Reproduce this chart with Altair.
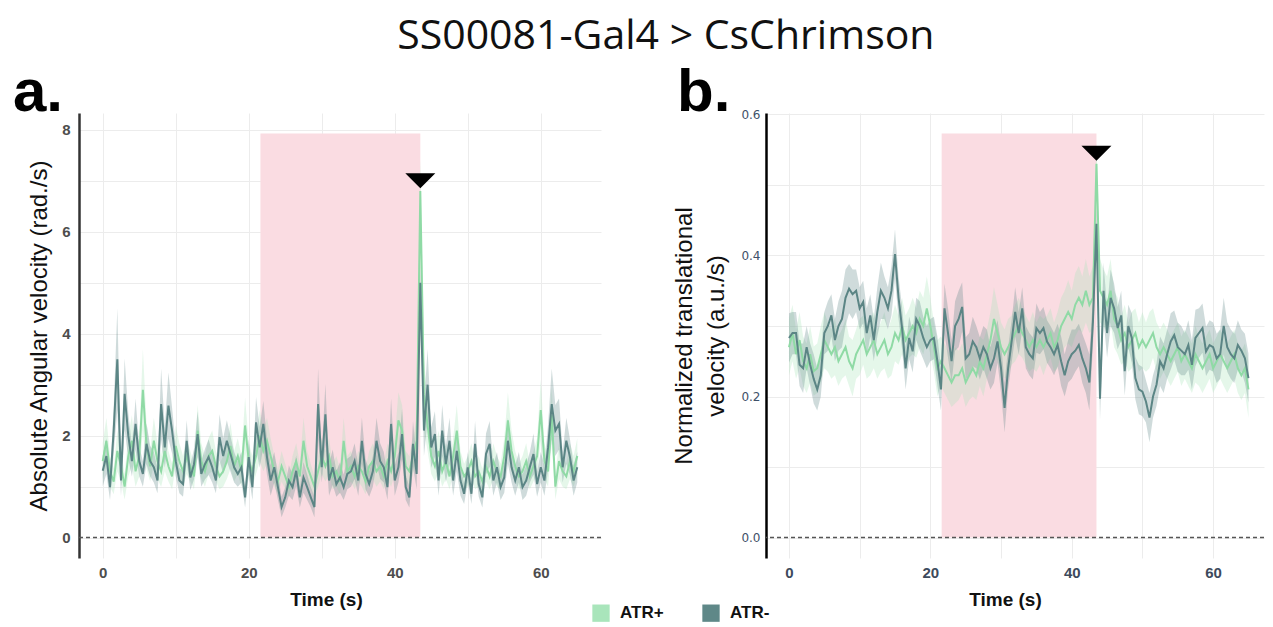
import altair as alt
import pandas as pd

TIME_STEP = 0.5
GROUPS = ["ATR+", "ATR-"]
FILL_COLORS = ["#a9e5bb", "#5f8888"]
LINE_COLORS = ["#8fdaa5", "#5b8585"]
STIM_START, STIM_END = 21.6, 43.5
TITLE = "SS00081-Gal4 > CsChrimson"

# ---- panel a: absolute angular velocity (rad./s), one value per 0.5 s ----
a_pos = [1.5, 1.9, 1.3, 1.1, 1.7, 1.4, 1.0, 1.6, 1.9, 1.3,
         1.6, 2.9, 1.8, 1.4, 1.9, 1.5, 1.3, 1.7, 1.4, 1.2,
         1.8, 1.5, 1.3, 1.6, 1.4, 1.2, 2.1, 1.5, 1.3, 1.6,
         1.7, 1.4, 1.2, 1.3, 1.5, 1.8, 1.4, 1.6, 1.3, 2.2,
         1.5, 1.3, 1.6, 2.0, 1.7, 1.9, 1.6, 1.3, 1.1, 1.4,
         1.2, 1.0, 1.3, 1.5, 1.2, 1.9, 1.4, 1.2, 1.0, 1.3,
         1.6, 1.4, 1.6, 1.2, 1.3, 1.1, 1.9, 1.3, 1.4, 1.2,
         1.4, 1.3, 1.1, 1.4, 1.5, 1.3, 1.4, 1.2, 1.5, 1.3,
         1.6, 2.3, 2.1, 1.4, 1.3, 1.6, 1.9, 6.8, 2.8, 2.2,
         1.6, 1.4, 1.7, 1.3, 1.5, 1.2, 1.6, 2.1, 1.4, 1.2,
         1.3, 1.5, 1.2, 1.3, 1.1, 1.4, 1.2, 1.5, 1.3, 1.2,
         1.6, 2.3, 1.7, 1.4, 1.2, 1.3, 1.5, 1.2, 1.4, 1.6,
         2.5, 1.5, 1.3, 2.4, 1.0, 1.5, 1.3, 1.2, 1.5, 1.3,
         1.6]
a_pos_sem = [0.35, 0.45, 0.3, 0.25, 0.4, 0.3, 0.25, 0.4, 0.5, 0.3,
             0.4, 0.8, 0.45, 0.3, 0.45, 0.35, 0.3, 0.4, 0.3, 0.25,
             0.4, 0.35, 0.3, 0.35, 0.3, 0.25, 0.5, 0.35, 0.3, 0.35,
             0.4, 0.3, 0.25, 0.3, 0.35, 0.45, 0.3, 0.35, 0.3, 0.55,
             0.35, 0.3, 0.35, 0.5, 0.4, 0.45, 0.35, 0.3, 0.25, 0.3,
             0.25, 0.2, 0.3, 0.35, 0.25, 0.45, 0.3, 0.25, 0.2, 0.3,
             0.35, 0.3, 0.35, 0.25, 0.3, 0.25, 0.45, 0.3, 0.3, 0.25,
             0.3, 0.3, 0.25, 0.3, 0.35, 0.3, 0.3, 0.25, 0.35, 0.3,
             0.35, 0.55, 0.5, 0.3, 0.3, 0.35, 0.45, 0.6, 0.7, 0.5,
             0.35, 0.3, 0.4, 0.3, 0.35, 0.25, 0.35, 0.5, 0.3, 0.25,
             0.3, 0.35, 0.25, 0.3, 0.25, 0.3, 0.25, 0.35, 0.3, 0.25,
             0.35, 0.55, 0.4, 0.3, 0.25, 0.3, 0.35, 0.25, 0.3, 0.35,
             0.6, 0.35, 0.3, 0.55, 0.25, 0.35, 0.3, 0.25, 0.35, 0.3,
             0.35]
a_neg = [1.31, 1.6, 0.99, 2.1, 3.5, 1.12, 2.82, 2.0, 1.5, 2.23,
         1.5, 1.25, 1.84, 1.5, 1.38, 1.12, 2.62, 1.77, 2.59, 2.1,
         1.5, 1.12, 1.05, 1.9, 1.18, 1.44, 2.03, 1.25, 1.44, 1.58,
         1.38, 1.12, 1.97, 1.6, 1.9, 1.64, 1.38, 1.25, 1.38, 0.79,
         1.58, 0.99, 2.26, 1.77, 2.23, 1.58, 1.12, 1.38, 0.99, 0.6,
         0.79, 1.12, 0.99, 1.31, 0.79, 1.18, 0.99, 0.79, 0.6, 2.62,
         1.38, 2.42, 1.12, 1.38, 1.05, 1.18, 0.99, 1.25, 1.3, 1.5,
         1.12, 1.9, 1.25, 1.05, 1.3, 1.9, 1.5, 1.38, 0.99, 2.23,
         1.12, 1.38, 2.03, 0.99, 0.79, 1.84, 1.25, 5.0, 2.1, 3.0,
         1.77, 2.03, 1.12, 2.1, 1.44, 1.9, 1.12, 1.7, 1.12, 0.86,
         1.38, 0.86, 1.84, 1.05, 0.79, 1.64, 1.84, 1.12, 1.38, 0.99,
         1.18, 1.9, 1.38, 1.12, 1.38, 0.99, 1.12, 1.38, 1.64, 1.05,
         1.38, 1.12, 1.77, 2.62, 2.1, 2.23, 1.38, 1.9, 1.58, 1.12,
         1.38]
a_neg_sem = [0.3, 0.35, 0.25, 0.45, 1.0, 0.3, 0.7, 0.45, 0.3, 0.5,
             0.3, 0.25, 0.4, 0.3, 0.3, 0.25, 0.7, 0.4, 0.65, 0.45,
             0.3, 0.25, 0.25, 0.4, 0.25, 0.3, 0.45, 0.25, 0.3, 0.35,
             0.3, 0.25, 0.45, 0.35, 0.4, 0.35, 0.3, 0.25, 0.3, 0.2,
             0.35, 0.25, 0.5, 0.4, 0.45, 0.35, 0.3, 0.3, 0.25, 0.2,
             0.2, 0.3, 0.25, 0.3, 0.2, 0.3, 0.25, 0.2, 0.2, 0.7,
             0.3, 0.6, 0.3, 0.35, 0.25, 0.3, 0.25, 0.3, 0.3, 0.35,
             0.3, 0.45, 0.3, 0.25, 0.3, 0.45, 0.35, 0.3, 0.25, 0.5,
             0.3, 0.3, 0.5, 0.25, 0.2, 0.45, 0.3, 0.4, 0.5, 0.7,
             0.4, 0.45, 0.3, 0.5, 0.35, 0.45, 0.3, 0.4, 0.3, 0.2,
             0.3, 0.2, 0.45, 0.25, 0.2, 0.4, 0.45, 0.3, 0.3, 0.25,
             0.3, 0.45, 0.3, 0.3, 0.3, 0.25, 0.3, 0.3, 0.4, 0.25,
             0.3, 0.3, 0.45, 0.7, 0.5, 0.5, 0.3, 0.45, 0.35, 0.3,
             0.3]

# ---- panel b: normalized translational velocity (a.u./s), one value per 0.5 s ----
b_pos = [0.27, 0.29, 0.26, 0.28, 0.25, 0.24, 0.26, 0.236, 0.24, 0.26,
         0.28, 0.27, 0.26, 0.27, 0.25, 0.26, 0.27, 0.25, 0.24, 0.26,
         0.27, 0.28, 0.26, 0.27, 0.28, 0.26, 0.27, 0.28, 0.26, 0.27,
         0.29, 0.28, 0.30, 0.28, 0.29, 0.30, 0.29, 0.31, 0.30, 0.325,
         0.30, 0.27, 0.24, 0.25, 0.24, 0.23, 0.22, 0.23, 0.23, 0.24,
         0.22, 0.23, 0.24, 0.23, 0.25, 0.24, 0.26, 0.28, 0.31, 0.29,
         0.27, 0.26, 0.27, 0.28, 0.29, 0.30, 0.29, 0.28, 0.27, 0.28,
         0.27, 0.28, 0.27, 0.28, 0.29, 0.27, 0.28, 0.30, 0.31, 0.32,
         0.31, 0.33, 0.34, 0.33, 0.35, 0.33, 0.34, 0.53, 0.35, 0.34,
         0.33, 0.35, 0.31, 0.30, 0.28, 0.29, 0.27, 0.28, 0.29, 0.27,
         0.28, 0.27, 0.28, 0.29, 0.27, 0.26, 0.27, 0.26, 0.25, 0.26,
         0.27, 0.25, 0.26, 0.25, 0.24, 0.26, 0.25, 0.24, 0.25, 0.26,
         0.24, 0.25, 0.26, 0.25, 0.24, 0.25, 0.26, 0.24, 0.23, 0.24,
         0.21]
b_pos_sem = [0.04, 0.04, 0.035, 0.04, 0.035, 0.035, 0.04, 0.035, 0.035, 0.04,
             0.04, 0.035, 0.035, 0.04, 0.035, 0.035, 0.04, 0.035, 0.04, 0.035,
             0.04, 0.035, 0.035, 0.04, 0.04, 0.035, 0.035, 0.04, 0.035, 0.04,
             0.04, 0.035, 0.04, 0.035, 0.035, 0.04, 0.035, 0.04, 0.04, 0.045,
             0.04, 0.035, 0.04, 0.035, 0.035, 0.035, 0.035, 0.04, 0.035, 0.035,
             0.035, 0.035, 0.04, 0.035, 0.035, 0.04, 0.035, 0.04, 0.045, 0.04,
             0.035, 0.035, 0.04, 0.035, 0.04, 0.04, 0.035, 0.035, 0.035, 0.04,
             0.035, 0.035, 0.04, 0.035, 0.035, 0.035, 0.04, 0.04, 0.04, 0.045,
             0.04, 0.045, 0.045, 0.04, 0.045, 0.04, 0.045, 0.03, 0.045, 0.04,
             0.04, 0.045, 0.04, 0.04, 0.035, 0.04, 0.035, 0.04, 0.035, 0.035,
             0.04, 0.035, 0.04, 0.035, 0.035, 0.035, 0.035, 0.035, 0.035, 0.035,
             0.035, 0.035, 0.035, 0.035, 0.035, 0.04, 0.035, 0.035, 0.035, 0.035,
             0.035, 0.035, 0.035, 0.035, 0.035, 0.035, 0.035, 0.035, 0.035, 0.035,
             0.04]
b_neg = [0.283, 0.29, 0.29, 0.245, 0.24, 0.27, 0.245, 0.225, 0.21, 0.23,
         0.29, 0.30, 0.315, 0.28, 0.30, 0.31, 0.34, 0.353, 0.345, 0.35,
         0.325, 0.334, 0.29, 0.315, 0.28, 0.32, 0.35, 0.34, 0.325, 0.35,
         0.402, 0.34, 0.297, 0.24, 0.283, 0.264, 0.31, 0.30, 0.283, 0.27,
         0.28, 0.283, 0.25, 0.21, 0.325, 0.29, 0.25, 0.30, 0.31, 0.327,
         0.254, 0.26, 0.278, 0.27, 0.254, 0.27, 0.26, 0.24, 0.254, 0.278,
         0.24, 0.184, 0.24, 0.278, 0.32, 0.29, 0.325, 0.27, 0.26, 0.254,
         0.297, 0.29, 0.297, 0.278, 0.27, 0.26, 0.273, 0.25, 0.23, 0.25,
         0.26, 0.265, 0.273, 0.254, 0.24, 0.22, 0.306, 0.445, 0.197, 0.35,
         0.29, 0.34, 0.325, 0.297, 0.315, 0.236, 0.30, 0.283, 0.226, 0.21,
         0.207, 0.193, 0.17, 0.20, 0.217, 0.25, 0.24, 0.26, 0.278, 0.287,
         0.27, 0.265, 0.26, 0.273, 0.245, 0.283, 0.29, 0.297, 0.264, 0.273,
         0.27, 0.254, 0.26, 0.30, 0.27, 0.26, 0.254, 0.273, 0.265, 0.254,
         0.226]
b_neg_sem = [0.035, 0.03, 0.03, 0.03, 0.035, 0.03, 0.03, 0.035, 0.03, 0.03,
             0.03, 0.035, 0.03, 0.03, 0.035, 0.04, 0.04, 0.035, 0.035, 0.03,
             0.03, 0.03, 0.035, 0.03, 0.03, 0.035, 0.04, 0.03, 0.03, 0.035,
             0.035, 0.03, 0.03, 0.03, 0.03, 0.03, 0.03, 0.035, 0.03, 0.03,
             0.03, 0.03, 0.035, 0.03, 0.035, 0.035, 0.03, 0.035, 0.04, 0.035,
             0.03, 0.03, 0.035, 0.03, 0.03, 0.03, 0.035, 0.03, 0.035, 0.03,
             0.035, 0.035, 0.03, 0.03, 0.035, 0.03, 0.03, 0.03, 0.03, 0.03,
             0.035, 0.03, 0.03, 0.03, 0.03, 0.03, 0.03, 0.035, 0.03, 0.03,
             0.035, 0.03, 0.03, 0.035, 0.035, 0.04, 0.035, 0.03, 0.03, 0.04,
             0.035, 0.04, 0.035, 0.03, 0.035, 0.035, 0.03, 0.035, 0.03, 0.035,
             0.035, 0.03, 0.035, 0.03, 0.03, 0.035, 0.035, 0.035, 0.04, 0.035,
             0.035, 0.035, 0.03, 0.035, 0.035, 0.04, 0.035, 0.035, 0.035, 0.035,
             0.035, 0.035, 0.035, 0.04, 0.035, 0.035, 0.035, 0.035, 0.03, 0.035,
             0.035]


def long_df(pos, pos_sem, neg, neg_sem):
    rows = []
    for g, vals, sems in (("ATR+", pos, pos_sem), ("ATR-", neg, neg_sem)):
        n = min(len(vals), len(sems))
        for i in range(n):
            rows.append({"t": i * TIME_STEP, "group": g, "v": vals[i],
                         "lo": vals[i] - sems[i], "hi": vals[i] + sems[i]})
    return pd.DataFrame(rows)


fill_scale = alt.Scale(domain=GROUPS, range=FILL_COLORS)
stroke_scale = alt.Scale(domain=GROUPS, range=LINE_COLORS)
TRI = "M-1,-0.5L1,-0.5L0,0.5Z"


def panel(df, width, xmax, ydom, yvals, ylabel_expr, yfmt, ytitle, y_lab_style,
          x_lab_color, ytitle_pad, stim_top, tri_y, label, label_dx, title_x, legend):
    xs = alt.Scale(domain=[-3.25, xmax], nice=False, zero=False)
    ys = alt.Scale(domain=ydom, nice=False, zero=False)
    xaxis = alt.Axis(values=[0, 10, 20, 30, 40, 50, 60],
                     labelExpr="datum.value % 20 === 0 ? datum.label : ''",
                     grid=True, gridColor="#ececec", gridWidth=1, domain=False, ticks=False,
                     labelFont="Liberation Sans", labelFontWeight="bold", labelFontSize=15,
                     labelColor=x_lab_color, labelPadding=7,
                     title="Time (s)", titleFont="Liberation Sans", titleFontWeight="bold",
                     titleFontSize=19, titleColor="#111", titlePadding=10, titleX=title_x)
    yaxis = alt.Axis(values=yvals, labelExpr=ylabel_expr, format=yfmt,
                     grid=True, gridColor="#ececec", gridWidth=1,
                     domain=True, domainColor=y_lab_style["domain"], domainWidth=2.5,
                     ticks=False, labelFont=y_lab_style["font"],
                     labelFontWeight=y_lab_style["weight"], labelFontSize=y_lab_style["size"],
                     labelColor=y_lab_style["color"], labelPadding=y_lab_style["pad"],
                     title=ytitle, titleFont="Liberation Sans", titleFontWeight="normal",
                     titleFontSize=24, titleColor="#111", titlePadding=ytitle_pad,
                     titleLineHeight=32)
    X = lambda f: alt.X(f, type="quantitative", scale=xs, axis=xaxis)
    Y = lambda f: alt.Y(f, type="quantitative", scale=ys, axis=yaxis)

    stim = alt.Chart(pd.DataFrame({"start": [STIM_START], "end": [STIM_END],
                                   "y0": [0.0], "y1": [stim_top]})).mark_rect(
        color="#fadce2").encode(x=X("start"), x2="end", y=Y("y0"), y2="y1")
    zero = alt.Chart(pd.DataFrame({"y": [0.0]})).mark_rule(
        color="#555555", strokeDash=[4, 3], strokeWidth=1.5).encode(y=Y("y"))
    ribbons = alt.Chart(df).mark_area(opacity=0.3, interpolate="linear").encode(
        x=X("t"), y=Y("lo"), y2="hi",
        fill=alt.Fill("group:N", scale=fill_scale, legend=legend))
    lines = alt.Chart(df).mark_line(strokeWidth=2).encode(
        x=X("t"), y=Y("v"),
        stroke=alt.Stroke("group:N", scale=stroke_scale, legend=None))
    tri = alt.Chart(pd.DataFrame({"t": [STIM_END], "y": [tri_y]})).mark_point(
        shape=TRI, size=900, filled=True, color="black", opacity=1).encode(
        x=X("t"), y=Y("y"))
    lab = alt.Chart(pd.DataFrame({"label": [label]})).mark_text(
        align="left", baseline="alphabetic", fontSize=60, fontWeight="bold",
        font="Liberation Sans", color="black").encode(
        x=alt.value(label_dx), y=alt.value(-2), text="label:N")
    return alt.layer(stim, zero, ribbons, lines, tri, lab).properties(width=width, height=445)


legend = alt.Legend(orient="none", legendX=513, legendY=491, direction="horizontal",
                    title=None, symbolType="square", symbolSize=300, symbolOpacity=1,
                    symbolStrokeWidth=0, labelFont="Liberation Sans", labelFontWeight="bold",
                    labelFontSize=17, labelColor="#111", columnPadding=38, labelOffset=10)

panel_a = panel(long_df(a_pos, a_pos_sem, a_neg, a_neg_sem), 522, 68.25,
                [-0.4, 8.33], [0, 1, 2, 3, 4, 5, 6, 7, 8],
                "datum.value % 2 === 0 ? datum.label : ''", "d",
                "Absolute Angular velocity (rad./s)",
                {"font": "Liberation Sans", "weight": "bold", "size": 15, "color": "#4d4d4d",
                 "pad": 9, "domain": "#333333"},
                "#4d4d4d", 10, 7.93, 7.0, "a.", -66, 247, legend)

panel_b = panel(long_df(b_pos, b_pos_sem, b_neg, b_neg_sem), 498, 67.2,
                [-0.029, 0.602], [0, 0.1, 0.2, 0.3, 0.4, 0.5, 0.6],
                "round(datum.value * 10) % 2 === 0 ? datum.label : ''", ".1f",
                ["Normalized translational", "velocity (a.u./s)"],
                {"font": "DejaVu Sans", "weight": "normal", "size": 12, "color": "#3e5068",
                 "pad": 6, "domain": "#000000"},
                "#3d4a5c", 12, 0.573, 0.545, "b.", -89, 239, None)

chart = alt.hconcat(panel_a, panel_b, spacing=165, bounds="flush").resolve_scale(
    fill="shared", stroke="shared").properties(
    title=alt.Title(TITLE, font="Open Sans", fontSize=41, fontWeight="normal",
                    color="#111", anchor="middle", frame="bounds", offset=5, dx=27),
    padding={"left": 5, "top": 8, "right": 0, "bottom": 0},
).configure_view(stroke=None)

chart.save("out.html", embed_options={"renderer": "svg", "actions": False})
